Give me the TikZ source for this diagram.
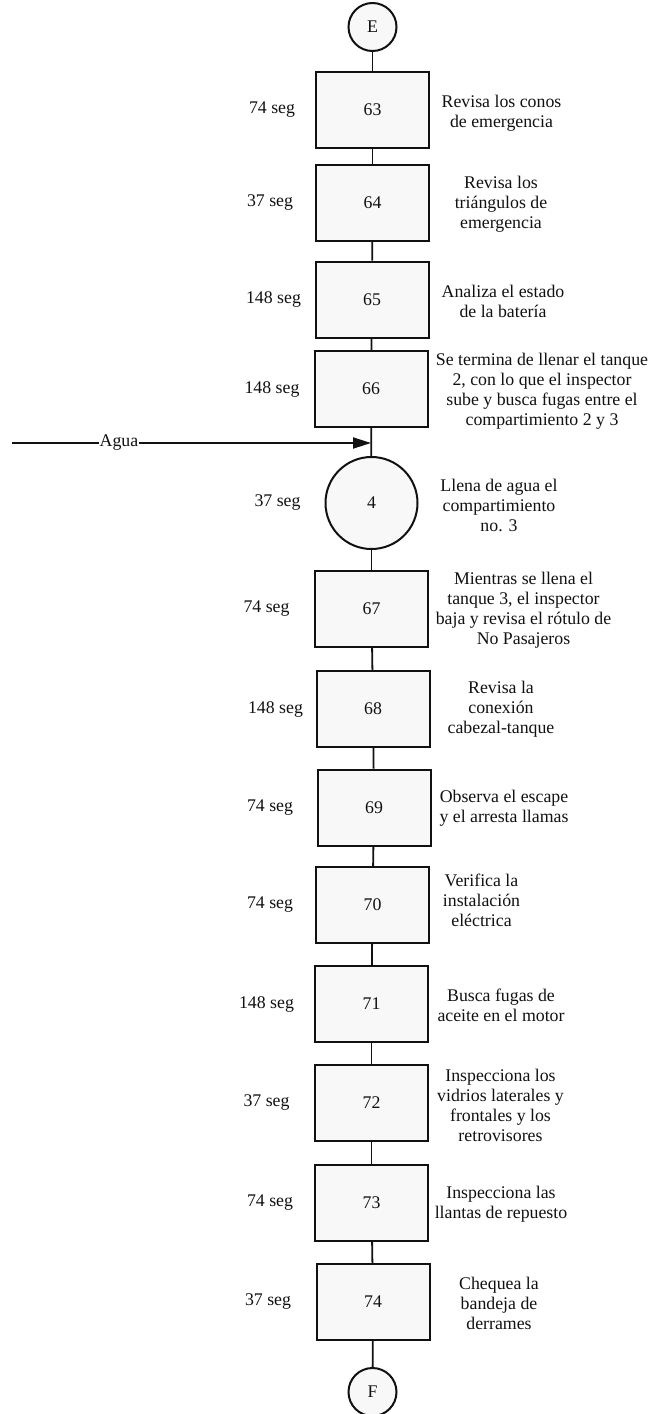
\documentclass[tikz,border=0pt]{standalone}
\usepackage{fontspec}
\setmainfont{Liberation Serif}
\usetikzlibrary{arrows.meta}
\definecolor{cFill}{HTML}{F8F8F8}
\definecolor{cInk}{HTML}{111111}

\begin{document}
\begin{tikzpicture}[x=0.5pt,y=-0.5pt,
    every node/.style={font=\fontsize{8.9}{10}\selectfont,text=cInk},
    opbox/.style={draw=cInk,line width=1pt,fill=cFill,minimum width=56.5pt,minimum height=38pt,inner sep=0pt},
    insp/.style={draw=cInk,line width=1pt,fill=cFill,circle,minimum size=46pt,inner sep=0pt},
    term/.style={draw=cInk,line width=1pt,fill=cFill,circle,minimum size=24pt,inner sep=0pt},
    tlabel/.style={inner sep=0pt},
    desc/.style={align=center,inner sep=0pt},
    flow/.style={draw=cInk,line width=0.9pt}]
  \useasboundingbox (0,0) rectangle (653,1414);
  % main column
  \node[term] (E) at (372.5,27) {E};
  \node[opbox] (b63) at (372.5,110) {63};
  \node[opbox] (b64) at (372.5,203) {64};
  \node[opbox] (b65) at (372,299.5) {65};
  \node[opbox] (b66) at (371,389) {66};
  \node[insp] (c4) at (371.5,503) {4};
  \node[opbox] (b67) at (371.5,609) {67};
  \node[opbox] (b68) at (373,709) {68};
  \node[opbox] (b69) at (374,807.5) {69};
  \node[opbox] (b70) at (372.5,905) {70};
  \node[opbox] (b71) at (371.5,1004) {71};
  \node[opbox] (b72) at (371.5,1103) {72};
  \node[opbox] (b73) at (371.5,1202.5) {73};
  \node[opbox] (b74) at (373,1302) {74};
  \node[term] (F) at (372.5,1392) {F};
  % times
  \node[tlabel] (t63) at (272,110) {74 seg};
  \node[tlabel] (t64) at (270,203) {37 seg};
  \node[tlabel] (t65) at (273.5,299.5) {148 seg};
  \node[tlabel] (t66) at (272,389) {148 seg};
  \node[tlabel] (t4) at (277.5,503) {37 seg};
  \node[tlabel] (t67) at (266.5,609) {74 seg};
  \node[tlabel] (t68) at (275.5,709) {148 seg};
  \node[tlabel] (t69) at (270,807.5) {74 seg};
  \node[tlabel] (t70) at (270,905) {74 seg};
  \node[tlabel] (t71) at (266.5,1004) {148 seg};
  \node[tlabel] (t72) at (266.5,1103) {37 seg};
  \node[tlabel] (t73) at (270,1202.5) {74 seg};
  \node[tlabel] (t74) at (268,1302) {37 seg};
  % descriptions
  \node[desc] (d63) at (501.5,113) {Revisa los conos\\de emergencia};
  \node[desc] (d64) at (501,204) {Revisa los\\triángulos de\\emergencia};
  \node[desc] (d65) at (503,301) {Analiza el estado\\de la batería};
  \node[desc] (d66) at (542,391) {Se termina de llenar el tanque\\2, con lo que el inspector\\sube y busca fugas entre el\\compartimiento 2 y 3};
  \node[desc] (d4) at (499,505) {Llena de agua el\\compartimiento\\no. 3};
  \node[desc] (d67) at (523.5,610) {Mientras se llena el\\tanque 3, el inspector\\baja y revisa el rótulo de\\No Pasajeros};
  \node[desc] (d68) at (501,709) {Revisa la\\conexión\\cabezal-tanque};
  \node[desc] (d69) at (504,808) {Observa el escape\\y el arresta llamas};
  \node[desc] (d70) at (481.5,900) {Verifica la\\instalación\\eléctrica};
  \node[desc] (d71) at (501,1005.5) {Busca fugas de\\aceite en el motor};
  \node[desc] (d72) at (500.5,1105) {Inspecciona los\\vidrios laterales y\\frontales y los\\retrovisores};
  \node[desc] (d73) at (501,1204.5) {Inspecciona las\\llantas de repuesto};
  \node[desc] (d74) at (499,1303) {Chequea la\\bandeja de\\derrames};
  % connectors
  \draw[flow] (E) -- (b63);
  \draw[flow] (b63) -- (b64);
  \draw[flow] (b64) -- (b65);
  \draw[flow] (b65) -- (b66);
  \draw[flow] (b66) -- (c4);
  \draw[flow] (c4) -- (b67);
  \draw[flow] (b67) -- (b68);
  \draw[flow] (b68) -- (b69);
  \draw[flow] (b69) -- (b70);
  \draw[flow] (b70) -- (b71);
  \draw[flow] (b71) -- (b72);
  \draw[flow] (b72) -- (b73);
  \draw[flow] (b73) -- (b74);
  \draw[flow] (b74) -- (F);
  % water input
  \coordinate (aguaIn) at (12,443);
  \coordinate (aguaOut) at (371,443);
  \draw[flow,-{Triangle[length=9pt,width=5.5pt]}] (aguaIn) -- node[pos=0.298,fill=white,inner sep=0.5pt] (agua) {Agua} (aguaOut);
\end{tikzpicture}
\end{document}
